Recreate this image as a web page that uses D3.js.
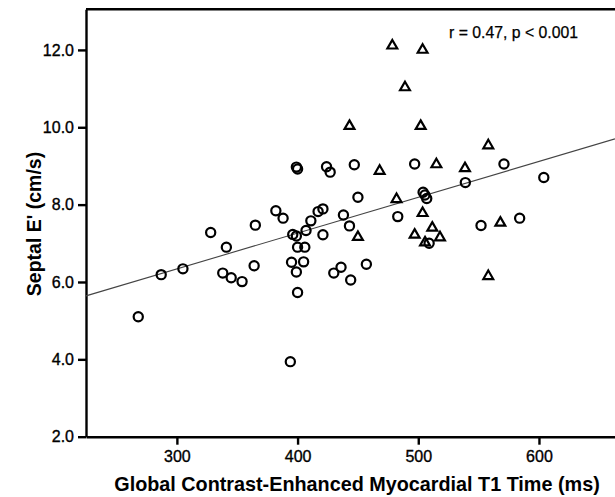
<!DOCTYPE html>
<html>
<head>
<meta charset="utf-8">
<script src="https://cdn.jsdelivr.net/npm/d3@7"></script>
<style>
  body { margin: 0; background: #fff; }
  svg { display: block; font-family: "Liberation Sans", Arial, sans-serif; }
</style>
</head>
<body>
<svg id="chart"></svg>
<script>
// Data: [T1 time (ms), septal E' (cm/s)]
const circlePoints = [
  [268, 5.10], [287, 6.19], [305, 6.34], [328, 7.28], [341, 6.90],
  [338, 6.23], [345, 6.11], [354, 6.01], [364, 6.42], [365, 7.47],
  [382, 7.84], [388, 7.65], [394, 3.94], [395, 6.51], [396, 7.23],
  [399, 6.26], [399, 7.19], [399, 8.97], [400, 8.92], [400, 5.73],
  [400, 6.90], [405, 6.52], [406, 6.90], [407, 7.33], [411, 7.58],
  [417, 7.82], [421, 7.89], [421, 7.22], [424, 8.98], [427, 8.84],
  [430, 6.23], [436, 6.38], [438, 7.73], [443, 7.45], [444, 6.05],
  [447, 9.03], [450, 8.19], [457, 6.46], [483, 7.69], [497, 9.05],
  [504, 8.32], [505.5, 8.25], [507, 8.16], [509, 7.00], [539, 8.57],
  [552, 7.46], [571, 9.05], [584, 7.65], [604, 8.70]
];
const trianglePoints = [
  [443, 10.03], [468, 8.87], [478.5, 12.11], [482, 8.14], [489, 11.03],
  [450, 7.16], [497, 7.22], [502, 10.03], [503.6, 12.0], [503.6, 7.78],
  [505.6, 7.02], [511.6, 7.40], [515, 9.04], [518, 7.15], [538.7, 8.94],
  [558, 9.53], [558, 6.15], [568, 7.53]
];
const yTicks = [2, 4, 6, 8, 10, 12];
const xTicks = [300, 400, 500, 600];
// fit line: y = intercept + slope * x
const fitIntercept = 3.56;
const fitSlope = 0.00926;
const annotation = "r = 0.47, p < 0.001";

const width = 615;
const height = 497;

const svg = d3.select("#chart").attr("width", width).attr("height", height);

const x = d3.scaleLinear().domain([224.7, 663]).range([86, 615]);
const y = d3.scaleLinear().domain([2, 13.05]).range([436.7, 9.3]);

// top frame line
svg.append("line")
  .attr("x1", x.range()[0]).attr("x2", x.range()[1])
  .attr("y1", y.range()[1]).attr("y2", y.range()[1])
  .attr("stroke", "#000").attr("stroke-width", 2.4);

// axes
const xAxis = svg.append("g")
  .attr("transform", `translate(0,${y.range()[0]})`)
  .call(d3.axisBottom(x).tickValues(xTicks).tickSize(8).tickSizeOuter(0).tickPadding(6));
const yAxis = svg.append("g")
  .attr("transform", `translate(${x.range()[0]},0)`)
  .call(d3.axisLeft(y).tickValues(yTicks).tickFormat(d3.format(".1f")).tickSize(8).tickSizeOuter(0).tickPadding(4));

[xAxis, yAxis].forEach((g) => {
  g.select(".domain").attr("stroke", "#000").attr("stroke-width", 2.4);
  g.selectAll(".tick line").attr("stroke", "#000").attr("stroke-width", 2.4);
  g.selectAll(".tick text")
    .attr("fill", "#000")
    .attr("stroke", "#000")
    .attr("stroke-width", 0.35)
    .style("font-size", "16px")
    .style("font-family", "'Liberation Sans', Arial, sans-serif");
});

// fit line
svg.append("line")
  .attr("x1", x(x.domain()[0])).attr("y1", y(fitIntercept + fitSlope * x.domain()[0]))
  .attr("x2", x(x.domain()[1])).attr("y2", y(fitIntercept + fitSlope * x.domain()[1]))
  .attr("stroke", "#444").attr("stroke-width", 1.1);

// circles
svg.append("g").selectAll("circle")
  .data(circlePoints)
  .join("circle")
  .attr("cx", (d) => x(d[0]))
  .attr("cy", (d) => y(d[1]))
  .attr("r", 4.6)
  .attr("fill", "none")
  .attr("stroke", "#000")
  .attr("stroke-width", 2.2);

// triangles
const tri = d3.symbol().type(d3.symbolTriangle).size(42);
svg.append("g").selectAll("path")
  .data(trianglePoints)
  .join("path")
  .attr("transform", (d) => `translate(${x(d[0])},${y(d[1])})`)
  .attr("d", tri)
  .attr("fill", "none")
  .attr("stroke", "#000")
  .attr("stroke-width", 2.2)
  .attr("stroke-linejoin", "miter");

// annotation
svg.append("text")
  .attr("x", 449).attr("y", 38)
  .style("font-size", "15.8px")
  .attr("fill", "#000")
  .attr("stroke", "#000")
  .attr("stroke-width", 0.25)
  .text(annotation);

// axis titles
svg.append("text")
  .attr("x", 357).attr("y", 491)
  .attr("text-anchor", "middle")
  .style("font-size", "19.8px").style("font-weight", "bold")
  .attr("fill", "#000")
  .text("Global Contrast-Enhanced Myocardial T1 Time (ms)");

svg.append("text")
  .attr("transform", "translate(41,224) rotate(-90)")
  .attr("text-anchor", "middle")
  .style("font-size", "19.5px").style("font-weight", "bold")
  .attr("fill", "#000")
  .text("Septal E' (cm/s)");
</script>
</body>
</html>
